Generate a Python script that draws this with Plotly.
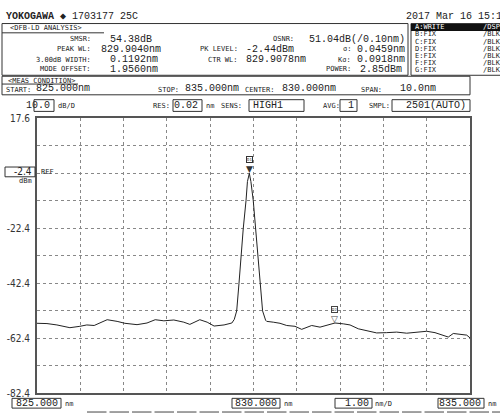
import plotly.graph_objects as go

# ---------------- data ----------------
wavelength_nm = [825.00, 825.23, 825.46, 825.76, 825.99, 826.15, 826.32, 826.62, 826.85,
                 827.03, 827.31, 827.54, 827.73, 827.93, 828.16, 828.39, 828.53, 828.76,
                 828.93, 829.09, 829.32, 829.50, 829.556, 829.612, 829.665, 829.711,
                 829.764, 829.827, 829.86, 829.904, 829.94, 829.995, 830.05, 830.097,
                 830.15, 830.21, 830.28, 830.305, 830.457, 830.612, 830.767, 830.958,
                 831.113, 831.344, 831.536, 831.691, 831.882, 832.074, 832.229, 832.420,
                 832.614, 832.845, 833.076, 833.307, 833.538, 833.769, 834.000, 834.192,
                 834.383, 834.499, 834.614, 834.769, 834.924, 835.000]
power_dbm = [-56.9, -57.0, -57.5, -58.5, -58.0, -57.5, -57.7, -55.6, -56.2,
             -56.9, -57.4, -56.8, -55.6, -56.0, -55.7, -56.5, -57.3, -55.6,
             -56.5, -57.9, -57.5, -56.8, -55.5, -52.4, -42.4, -32.4,
             -22.4, -12.4, -5.4, -2.44, -5.4, -12.4, -22.4, -32.4,
             -42.4, -52.4, -55.8, -56.2, -56.5, -56.9, -57.7, -58.0,
             -59.1, -57.7, -58.3, -57.5, -56.8, -57.1, -57.5, -58.9,
             -59.6, -60.4, -60.3, -60.1, -60.5, -60.1, -59.8, -60.3,
             -61.2, -61.9, -60.6, -61.0, -61.2, -62.2]

peak_marker = (829.904, -2.44)
side_marker = (831.882, -56.8)

x_start, x_stop = 825.0, 835.0
y_top, y_bottom = 17.6, -82.4
y_grid = [17.6, 7.6, -2.4, -12.4, -22.4, -32.4, -42.4, -52.4, -62.4, -72.4, -82.4]
y_ticktext = ["17.6", "", "", "", "-22.4", "", "-42.4", "", "-62.4", "", "-82.4"]

trace_list = [("A:WRITE", "/DSP"), ("B:FIX", "/BLK"), ("C:FIX", "/BLK"), ("D:FIX", "/BLK"),
              ("E:FIX", "/BLK"), ("F:FIX", "/BLK"), ("G:FIX", "/BLK")]

# ---------------- layout helpers ----------------
W, H = 500, 418
def px(x):
    return x / W
def py(y):
    return 1 - y / H

MONO = "Liberation Mono, DejaVu Sans Mono, monospace"
SMALL = "DejaVu Sans Mono, Liberation Mono, monospace"
NARROW = "Liberation Sans Narrow, DejaVu Sans Condensed, Liberation Sans, sans-serif"
INK = "#222222"

annotations = []
shapes = []

def txt(x, y, s, size=7, anchor="left", color=INK, font=None):
    if font is None:
        font = MONO if size >= 9 else SMALL
    annotations.append(dict(x=px(x), y=py(y), xref="paper", yref="paper", text=s,
                            showarrow=False, xanchor=anchor, yanchor="middle",
                            font=dict(family=font, size=size, color=color)))

def box(x0, y0, x1, y1, color="#333333", width=1, fill=None):
    shapes.append(dict(type="rect", xref="paper", yref="paper",
                       x0=px(x0), x1=px(x1), y0=py(y0), y1=py(y1),
                       line=dict(color=color, width=width),
                       fillcolor=fill if fill else "rgba(0,0,0,0)"))

def hline(x0, x1, y, color="#333333", width=1):
    shapes.append(dict(type="line", xref="paper", yref="paper",
                       x0=px(x0), x1=px(x1), y0=py(y), y1=py(y),
                       line=dict(color=color, width=width)))

VAL = 10

# header
txt(4, 12, "<b>YOKOGAWA</b> ◆ 1703177 25C", size=10)
txt(404, 12, "2017 Mar 16 15:17", size=10)

# analysis box
box(2, 19, 408, 72)
txt(8, 24, "<DFB-LD ANALYSIS>", size=7)
hline(2, 104, 28.5)
txt(93, 35, "SMSR:", size=7, anchor="right")
txt(108, 35, "54.38dB", size=VAL)
txt(93, 45.5, "PEAK WL:", size=7, anchor="right")
txt(99, 45.5, "829.9040nm", size=VAL)
txt(93, 56, "3.00dB WIDTH:", size=7, anchor="right")
txt(160, 56, "0.1192nm", size=VAL, anchor="right")
txt(93, 66, "MODE OFFSET:", size=7, anchor="right")
txt(160, 66, "1.9560nm", size=VAL, anchor="right")
txt(240, 45.5, "PK LEVEL:", size=7, anchor="right")
txt(244, 45.5, "-2.44dBm", size=VAL)
txt(240, 56, "CTR WL:", size=7, anchor="right")
txt(244, 56, "829.9078nm", size=VAL)
txt(296, 35, "OSNR:", size=7, anchor="right")
txt(407, 35, "51.04dB(/0.10nm)", size=VAL, anchor="right")
txt(353, 45.5, "σ:", size=7, anchor="right")
txt(407, 45.5, "0.0459nm", size=VAL, anchor="right")
txt(353, 56, "Kσ:", size=7, anchor="right")
txt(407, 56, "0.0918nm", size=VAL, anchor="right")
txt(353, 66, "POWER:", size=7, anchor="right")
txt(404, 66, "2.85dBm", size=VAL, anchor="right")

# trace list box
box(411, 19, 502, 72)
for i, (a, b) in enumerate(trace_list):
    yy = 23 + i * 7.2
    if i == 0:
        box(411, yy - 3.6, 500, yy + 3.6, color="#111111", width=0, fill="#111111")
        txt(413, yy, a, size=7, color="white")
        txt(481, yy, b, size=7, color="white")
    else:
        txt(413, yy, a, size=7)
        txt(481, yy, b, size=7)

# measurement condition box
box(2, 73, 470, 92)
txt(6, 77.5, "<MEAS CONDITION>", size=7)
hline(2, 78, 81)
txt(4, 87, "START:", size=7)
txt(34, 86, "825.000nm", size=VAL)
txt(156, 87, "STOP:", size=7)
txt(183, 86, "835.000nm", size=VAL)
txt(243, 87, "CENTER:", size=7)
txt(280, 86, "830.000nm", size=VAL)
txt(359, 87, "SPAN:", size=7)
txt(398, 86, "10.0nm", size=VAL)

# settings row
box(34, 97, 54, 109)
txt(52, 103, "10.0", size=10, anchor="right")
txt(56, 103.5, "dB/D", size=7)
txt(151, 103.5, "RES:", size=7)
box(173, 97, 202, 109)
txt(200, 103, "0.02", size=10, anchor="right")
txt(204, 103.5, "nm", size=7)
txt(219, 103.5, "SENS:", size=7)
box(249, 97, 304, 109)
txt(251, 103, "HIGH1", size=10)
txt(321, 103.5, "AVG:", size=7)
box(340, 97, 357, 109)
txt(356, 103, "1", size=10, anchor="right")
txt(367, 103.5, "SMPL:", size=7)
box(392, 97, 470, 109)
txt(468, 103, "2501(AUTO)", size=10, anchor="right")

# reference level box
box(5, 166, 35, 176)
txt(34, 171, "-2.4", size=10, anchor="right", font=NARROW)
txt(34, 180, "dBm", size=7, anchor="right")
txt(39, 171, "REF", size=7)

# bottom row
box(12, 403, 61, 413)
txt(60, 408, "825.000", size=10, anchor="right")
txt(63, 408.5, "nm", size=7)
box(232, 403, 280, 413)
txt(279, 408, "830.000", size=10, anchor="right")
txt(282, 408.5, "nm", size=7)
box(335, 403, 372, 413)
txt(371, 408, "1.00", size=10, anchor="right")
txt(373, 408.5, "nm/D", size=7)
box(438, 403, 484, 413)
txt(483, 408, "835.000", size=10, anchor="right")
txt(486, 408.5, "nm", size=7)
for k in range(19):
    x0 = 87 + k * 22.5
    if x0 < 500:
        hline(x0, min(x0 + 19.5, 500), 417, color="#444444", width=1)

# markers: triangle sitting on the trace point, small label box above it
for (mx, my), name, tri, col in [(peak_marker, "D1", "▼", "#333333"),
                                  (side_marker, "D2", "▽", "#444444")]:
    annotations.append(dict(x=mx, y=my, xref="x", yref="y",
                            text=tri, showarrow=False, yanchor="bottom", yshift=-3,
                            font=dict(size=9, color=col, family="DejaVu Sans")))
    annotations.append(dict(x=mx, y=my, xref="x", yref="y",
                            text=name, showarrow=False, yanchor="bottom", yshift=10,
                            bordercolor=col, borderwidth=1, borderpad=0,
                            font=dict(size=4, color=col, family=SMALL)))

fig = go.Figure()
fig.add_trace(go.Scatter(x=wavelength_nm, y=power_dbm, mode="lines",
                         line=dict(color="#222222", width=1), hoverinfo="skip"))

fig.update_layout(
    width=W, height=H,
    margin=dict(l=0, r=0, t=0, b=0),
    paper_bgcolor="white", plot_bgcolor="white",
    showlegend=False,
    annotations=annotations,
    shapes=shapes,
    xaxis=dict(domain=[px(37), px(470)], range=[x_start, x_stop],
               tick0=825, dtick=1, showgrid=True, griddash="dot",
               gridcolor="#888888", gridwidth=1, showticklabels=False,
               ticks="", zeroline=False,
               showline=True, mirror=True, linecolor="#555555", linewidth=2),
    yaxis=dict(domain=[py(398), py(116)], range=[y_bottom, y_top],
               tickmode="array", tickvals=y_grid, ticktext=y_ticktext,
               showgrid=True, griddash="dot", gridcolor="#888888", gridwidth=1,
               ticks="", zeroline=False, ticklabelstandoff=3,
               tickfont=dict(family=NARROW, size=10, color="#333333"),
               showline=True, mirror=True, linecolor="#555555", linewidth=2),
)

fig.write_html("out.html", config={"displayModeBar": False},
               post_script="document.body.style.margin='0';document.body.style.overflow='hidden';")
